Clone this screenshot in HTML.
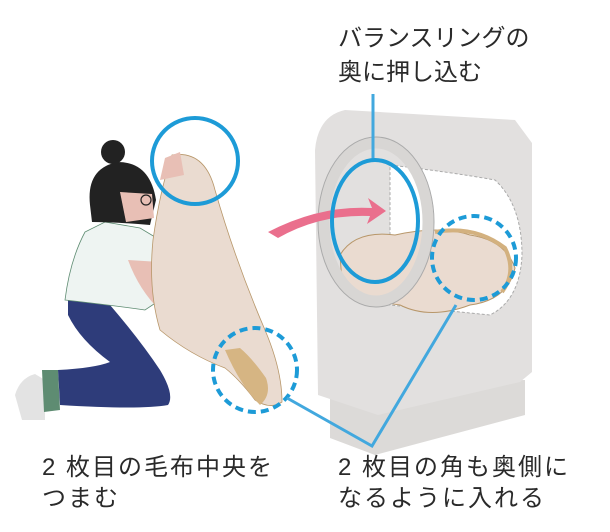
<!DOCTYPE html>
<html><head><meta charset="utf-8"><style>
html,body{margin:0;padding:0;background:#fff;}
svg{display:block;}
text{font-family:"Liberation Sans","Noto Sans CJK JP",sans-serif;fill:#2a2a2a;font-size:24px;}
</style></head><body>
<svg width="610" height="532" viewBox="0 0 610 532" xmlns="http://www.w3.org/2000/svg">
<!-- washer -->
<path d="M330 385 L330 438 L375 455 L525 415 L525 380 Z" fill="#dcdad8"/>
<path d="M345 110 L515 120 L532 143 L532 372 L520 382 L378 415 L318 395 L315 150 Q318 116 345 110 Z" fill="#e2e0df"/>
<!-- drum opening -->
<path d="M390 165 Q450 172 495 180 Q522 205 522 255 Q520 300 490 315 L390 305 Z" fill="#fff" stroke="#aaa" stroke-dasharray="3 2"/>
<!-- blanket in drum -->
<path d="M340 255 Q355 230 395 235 Q440 225 470 235 Q505 240 515 268 Q508 300 470 305 Q430 320 400 305 Q360 300 342 282 Z" fill="#eadbd0" stroke="#b8976a"/>
<path d="M435 232 Q475 225 505 248 Q517 272 502 292" fill="none" stroke="#d3b17f" stroke-width="4"/>
<!-- door ring -->
<ellipse cx="376" cy="222" rx="52" ry="79" fill="none" stroke="#d8d6d4" stroke-width="11"/>
<ellipse cx="376" cy="222" rx="58" ry="85" fill="none" stroke="#aaa" stroke-width="1"/>
<!-- pink arrow -->
<path d="M268 232 Q320 205 372 208 L368 198 L386 211 L367 224 L370 216 Q320 214 278 238 Z" fill="#ea6f8d"/>
<!-- person -->
<path d="M15 395 Q20 378 35 374 L45 380 L45 420 L22 420 Z" fill="#e3e3e3"/>
<path d="M42 370 L58 370 L60 410 L44 412 Z" fill="#5e8c72"/>
<path d="M68 300 Q90 295 110 305 Q140 340 160 370 Q175 395 168 405 Q140 410 60 405 L58 370 Q95 368 110 362 Q80 340 68 315 Z" fill="#2e3c7a"/>
<path d="M85 232 L105 222 L140 228 L160 240 L160 300 L145 310 Q110 305 65 300 Q70 260 85 232 Z" fill="#eef4f2" stroke="#5e8c72" stroke-width="0.8"/>
<path d="M128 260 Q150 320 215 345 L222 325 Q175 300 160 262 Z" fill="#e8bfb5"/>
<circle cx="113" cy="152" r="12" fill="#222"/>
<path d="M90 205 Q86 168 118 162 Q150 162 156 200 L150 225 Q115 222 92 222 Z" fill="#222"/>
<path d="M120 192 L152 194 L154 218 L126 222 Z" fill="#e8bfb5"/>
<circle cx="146" cy="200" r="5" fill="none" stroke="#222" stroke-width="1.2"/>
<!-- blanket held -->
<path d="M172 155 Q205 150 215 190 Q235 260 265 330 Q282 370 282 402 Q270 410 255 400 Q240 380 225 368 Q190 355 160 330 Q148 290 153 240 Q160 190 172 155 Z" fill="#eadbd0" stroke="#b8976a" stroke-width="0.8"/>
<path d="M225 350 Q240 385 260 405 Q272 395 266 378 Q252 358 240 348 Z" fill="#d6b583"/>
<path d="M165 158 L180 152 L184 175 L160 180 Z" fill="#e8bfb5"/>
<!-- callouts -->
<line x1="373" y1="94" x2="373" y2="160" stroke="#42a8de" stroke-width="3"/>
<ellipse cx="375" cy="221" rx="43" ry="61" fill="none" stroke="#1d9bd7" stroke-width="4"/>
<circle cx="195" cy="161" r="43" fill="none" stroke="#1d9bd7" stroke-width="4"/>
<circle cx="474" cy="258" r="42" fill="none" stroke="#1d9bd7" stroke-width="4" stroke-dasharray="8 5"/>
<circle cx="255" cy="370" r="42" fill="none" stroke="#1d9bd7" stroke-width="4" stroke-dasharray="8 5"/>
<polyline points="287,398 372,446 456,305" fill="none" stroke="#42a8de" stroke-width="3"/>
<!-- labels -->
<text x="338" y="46">バランスリングの</text>
<text x="338" y="80">奥に押し込む</text>
<text x="42" y="475" letter-spacing="2">2 枚目の毛布中央を</text>
<text x="42" y="506" letter-spacing="2">つまむ</text>
<text x="338" y="475" letter-spacing="2">2 枚目の角も奥側に</text>
<text x="338" y="506" letter-spacing="2">なるように入れる</text>
</svg>
</body></html>
